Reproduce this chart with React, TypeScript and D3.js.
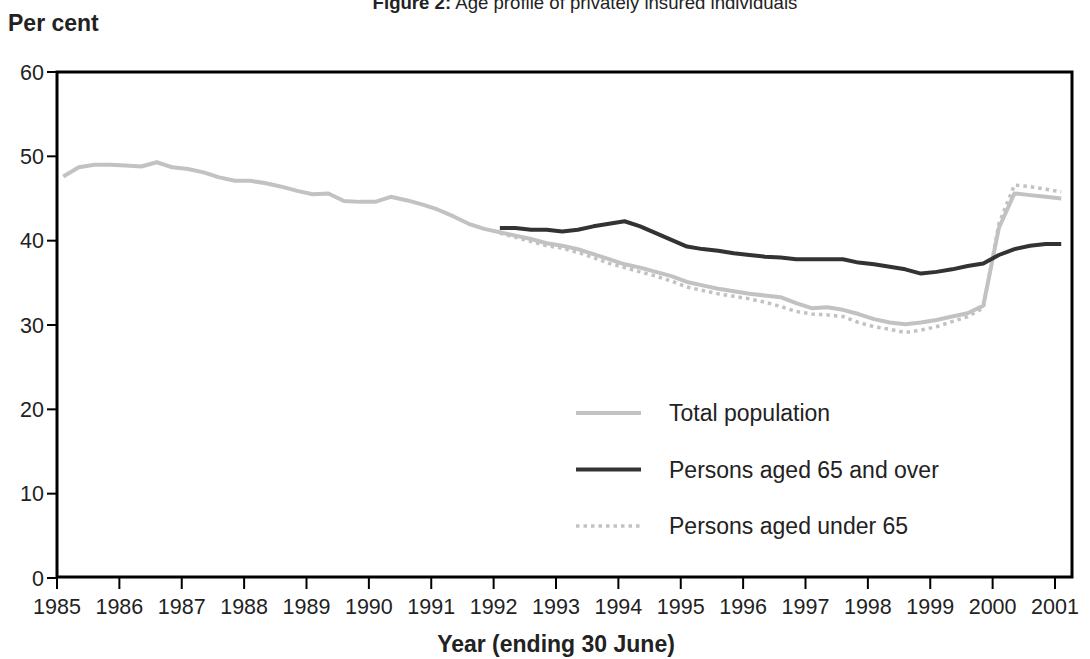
import React from "react";
import * as d3 from "d3";

const yearTicks = [1985, 1986, 1987, 1988, 1989, 1990, 1991, 1992, 1993, 1994, 1995, 1996, 1997, 1998, 1999, 2000, 2001];
const valueTicks = [0, 10, 20, 30, 40, 50, 60];

// Quarterly observations
const totalStart = 1985.1;
const totalPopulation = [
  47.6, 48.7, 49.0, 49.0, 48.9, 48.8, 49.3, 48.7, 48.5, 48.1, 47.5, 47.1,
  47.1, 46.8, 46.4, 45.9, 45.5, 45.6, 44.7, 44.6, 44.6, 45.2, 44.8, 44.3,
  43.7, 42.9, 42.0, 41.4, 41.0, 40.6, 40.2, 39.7, 39.4, 39.0, 38.4, 37.8,
  37.2, 36.8, 36.3, 35.8, 35.1, 34.7, 34.3, 34.0, 33.7, 33.5, 33.3, 32.6,
  32.0, 32.1, 31.8, 31.3, 30.7, 30.3, 30.1, 30.3, 30.6, 31.0, 31.4, 32.3,
  41.5, 45.6, 45.4, 45.2, 45.0,
];

const ageStart = 1992.1;
const aged65Over = [
  41.5, 41.5, 41.3, 41.3, 41.1, 41.3, 41.7, 42.0, 42.3, 41.7, 40.9, 40.1,
  39.3, 39.0, 38.8, 38.5, 38.3, 38.1, 38.0, 37.8, 37.8, 37.8, 37.8, 37.4,
  37.2, 36.9, 36.6, 36.1, 36.3, 36.6, 37.0, 37.3, 38.3, 39.0, 39.4, 39.6, 39.6,
];
const agedUnder65 = [
  40.9, 40.4, 39.9, 39.4, 39.1, 38.6, 38.0, 37.3, 36.8, 36.3, 35.8, 35.2,
  34.5, 34.1, 33.7, 33.4, 33.1, 32.7, 32.2, 31.6, 31.3, 31.2, 31.0, 30.3,
  29.8, 29.5, 29.1, 29.4, 29.8, 30.4, 31.0, 32.0, 42.0, 46.6, 46.4, 46.1, 45.8,
];

const legendItems = [
  { label: "Total population", color: "#c2c2c2", dash: "none", width: 4 },
  { label: "Persons aged 65 and over", color: "#333333", dash: "none", width: 4 },
  { label: "Persons aged under 65", color: "#c2c2c2", dash: "3.5,4", width: 3.5 },
];

const W = 1090;
const H = 659;
const left = 57;
const right = 1072;
const top = 72;
const bottom = 577;

export default function App() {
  const x = d3.scaleLinear().domain([1985, 2001]).range([left, 1055]);
  const y = d3.scaleLinear().domain([0, 60]).range([bottom + 1, top]);

  const toPts = (start: number, vals: number[]) =>
    vals.map((v, i) => [start + i * 0.25, v] as [number, number]);

  const line = d3
    .line<[number, number]>()
    .x((d) => x(d[0]))
    .y((d) => y(d[1]));

  const font = "'Liberation Sans', Arial, sans-serif";
  const txt = "#222";

  return (
    <svg
      width={W}
      height={H}
      style={{ position: "absolute", left: 0, top: 0, background: "#fff" }}
      fontFamily={font}
    >
      {/* Title (top clipped like reference) */}
      <text x={585} y={8.5} textAnchor="middle" fontSize={18.6} fill={txt}>
        <tspan fontWeight="bold">Figure 2:</tspan> Age profile of privately insured individuals
      </text>
      <text x={8} y={31} fontSize={23} fontWeight="bold" fill={txt}>
        Per cent
      </text>

      {/* series */}
      <path
        d={line(toPts(totalStart, totalPopulation)) || ""}
        fill="none"
        stroke="#c2c2c2"
        strokeWidth={4}
        strokeLinejoin="round"
      />
      <path
        d={line(toPts(ageStart, agedUnder65)) || ""}
        fill="none"
        stroke="#c2c2c2"
        strokeWidth={3.5}
        strokeDasharray="3.5,4"
      />
      <path
        d={line(toPts(ageStart, aged65Over)) || ""}
        fill="none"
        stroke="#333333"
        strokeWidth={4}
        strokeLinejoin="round"
      />

      {/* frame */}
      <rect
        x={left}
        y={top}
        width={right - left}
        height={bottom - top}
        fill="none"
        stroke="#000"
        strokeWidth={3}
      />

      {/* y ticks */}
      {valueTicks.map((v) => (
        <g key={v}>
          <line x1={47} x2={left} y1={y(v)} y2={y(v)} stroke="#000" strokeWidth={2} />
          <text x={44} y={y(v) + 7.5} textAnchor="end" fontSize={21.5} fill={txt}>
            {v}
          </text>
        </g>
      ))}

      {/* x ticks */}
      {yearTicks.map((t) => (
        <g key={t}>
          <line x1={x(t)} x2={x(t)} y1={bottom} y2={589} stroke="#000" strokeWidth={2} />
          <text x={x(t)} y={614} textAnchor="middle" fontSize={21.5} fill={txt}>
            {t}
          </text>
        </g>
      ))}

      <text x={556} y={652} textAnchor="middle" fontSize={23} fontWeight="bold" fill={txt}>
        Year (ending 30 June)
      </text>

      {/* legend */}
      {legendItems.map((it, i) => {
        const ly = 413 + i * 56.5;
        return (
          <g key={it.label}>
            <line
              x1={576}
              x2={641}
              y1={ly}
              y2={ly}
              stroke={it.color}
              strokeWidth={it.width}
              strokeDasharray={it.dash}
            />
            <text x={669} y={ly + 8} fontSize={23} fill={txt}>
              {it.label}
            </text>
          </g>
        );
      })}
    </svg>
  );
}
